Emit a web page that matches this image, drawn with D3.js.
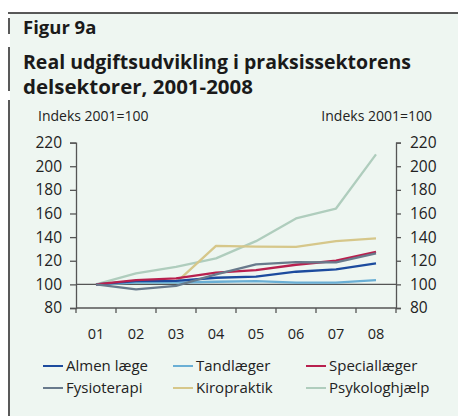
<!DOCTYPE html>
<html>
<head>
<meta charset="utf-8">
<script src="https://cdn.jsdelivr.net/npm/d3@7"></script>
<style>
  body { margin: 0; background: #fff; }
  svg { display: block; font-family: "Open Sans", sans-serif; }
</style>
</head>
<body>
<div id="chart"></div>
<script>
  // data (index 2001 = 100)
  var years = ["01", "02", "03", "04", "05", "06", "07", "08"];
  var almenLaege   = [100, 102.8, 103, 105.6, 106.5, 110.7, 112.7, 117.7];
  var tandlaeger   = [100, 101.4, 101.4, 102.2, 102.8, 101.4, 101.4, 103.6];
  var speciallaeger = [100, 103.6, 105, 110, 112, 116.6, 120, 127.6];
  var fysioterapi  = [100, 95.8, 98.8, 108.4, 116.9, 118.8, 118.6, 126.2];
  var kiropraktik  = [100, 101.7, 101.4, 132.6, 132, 131.8, 136.6, 138.9];
  var psykolog     = [100, 109.3, 114.9, 122, 136.6, 155.8, 164.2, 210];
  var yTicks = [80, 100, 120, 140, 160, 180, 200, 220];

  var series = [
    {name: "Psykologhjælp", values: psykolog,     color: "#afcdbd"},
    {name: "Kiropraktik",   values: kiropraktik,  color: "#d6c78a"},
    {name: "Tandlæger",     values: tandlaeger,   color: "#6aafd5"},
    {name: "Almen læge",    values: almenLaege,   color: "#1c4b9e"},
    {name: "Speciallæger",  values: speciallaeger, color: "#b8204e"},
    {name: "Fysioterapi",   values: fysioterapi,  color: "#687a8c"}
  ];
  var legendOrder = ["Almen læge", "Tandlæger", "Speciallæger", "Fysioterapi", "Kiropraktik", "Psykologhjælp"];

  var width = 458, height = 416;
  var svg = d3.select("#chart").append("svg")
    .attr("width", width)
    .attr("height", height);

  // panel background, top rule and left bar
  svg.append("rect")
    .attr("x", 10).attr("y", 13)
    .attr("width", width - 10).attr("height", height - 13)
    .attr("fill", "#eef6f1");
  svg.append("line")
    .attr("x1", 8).attr("x2", width).attr("y1", 13).attr("y2", 13)
    .attr("stroke", "#222").attr("stroke-width", 1.5);
  [[18, 34], [47, 91], [100, height]].forEach(function(s) {
    svg.append("line")
      .attr("x1", 9).attr("x2", 9).attr("y1", s[0]).attr("y2", s[1])
      .attr("stroke", "#222").attr("stroke-width", 1.5);
  });

  // titles
  svg.append("text").attr("x", 23).attr("y", 34)
    .attr("font-size", 18.5).attr("font-weight", 700).attr("fill", "#1a1a1a")
    .text("Figur 9a");
  svg.append("text").attr("x", 23).attr("y", 69)
    .attr("font-size", 19).attr("font-weight", 700).attr("fill", "#1a1a1a")
    .attr("textLength", 388).attr("lengthAdjust", "spacingAndGlyphs")
    .text("Real udgiftsudvikling i praksissektorens");
  svg.append("text").attr("x", 23).attr("y", 94)
    .attr("font-size", 19).attr("font-weight", 700).attr("fill", "#1a1a1a")
    .attr("textLength", 230).attr("lengthAdjust", "spacingAndGlyphs")
    .text("delsektorer, 2001-2008");

  // scales
  var x = d3.scaleBand().domain(years).range([76, 396]);
  var y = d3.scaleLinear().domain([80, 220]).range([308, 142.6]);
  var axisColor = "#555";

  // axis captions
  svg.append("text").attr("x", 38).attr("y", 121)
    .attr("font-size", 14).attr("fill", "#222").text("Indeks 2001=100");
  svg.append("text").attr("x", 432).attr("y", 121)
    .attr("font-size", 14).attr("fill", "#222").attr("text-anchor", "end").text("Indeks 2001=100");

  function styleAxis(g) {
    g.select(".domain").attr("stroke", axisColor).attr("stroke-width", 1.3);
    g.selectAll(".tick line").attr("stroke", axisColor).attr("stroke-width", 1.3);
    g.selectAll(".tick text").attr("fill", "#222").attr("font-size", 15.5)
      .attr("font-family", "Open Sans, sans-serif");
  }

  var yLeft = svg.append("g").attr("transform", "translate(76,0)")
    .call(d3.axisLeft(y).tickValues(yTicks).tickSize(6).tickSizeOuter(6).tickPadding(8));
  styleAxis(yLeft);
  var yRight = svg.append("g").attr("transform", "translate(396,0)")
    .call(d3.axisRight(y).tickValues(yTicks).tickSize(5).tickSizeOuter(5).tickPadding(9));
  styleAxis(yRight);

  // x axis: ticks at band edges, labels at band centres
  var xAxis = svg.append("g").attr("transform", "translate(0,308)");
  xAxis.append("line").attr("x1", 76).attr("x2", 396)
    .attr("stroke", axisColor).attr("stroke-width", 1.3);
  xAxis.selectAll(".edge")
    .data(years.slice(1))
    .enter().append("line")
    .attr("x1", function(d) { return x(d); })
    .attr("x2", function(d) { return x(d); })
    .attr("y1", 0).attr("y2", 5)
    .attr("stroke", axisColor).attr("stroke-width", 1.3);
  [76, 396].forEach(function(px) {
    xAxis.append("line").attr("x1", px).attr("x2", px).attr("y1", 0).attr("y2", 5)
      .attr("stroke", axisColor).attr("stroke-width", 1.3);
  });
  xAxis.selectAll(".lab")
    .data(years)
    .enter().append("text")
    .attr("x", function(d) { return x(d) + x.bandwidth() / 2; })
    .attr("y", 31)
    .attr("text-anchor", "middle")
    .attr("font-size", 14.5).attr("fill", "#222")
    .text(function(d) { return d; });

  // base line at 100
  svg.append("line")
    .attr("x1", 76).attr("x2", 396)
    .attr("y1", y(100)).attr("y2", y(100))
    .attr("stroke", axisColor).attr("stroke-width", 1.3);

  // series lines
  var line = d3.line()
    .x(function(d, i) { return x(years[i]) + x.bandwidth() / 2; })
    .y(function(d) { return y(d); });

  svg.selectAll(".series")
    .data(series)
    .enter().append("path")
    .attr("class", "series")
    .attr("d", function(d) { return line(d.values); })
    .attr("fill", "none")
    .attr("stroke", function(d) { return d.color; })
    .attr("stroke-width", 2.3)
    .attr("stroke-linejoin", "round");

  // legend
  var colX = [43, 173, 306];
  var rowY = [366, 388];
  var legend = svg.selectAll(".leg")
    .data(legendOrder)
    .enter().append("g")
    .attr("transform", function(d, i) {
      return "translate(" + colX[i % 3] + "," + rowY[Math.floor(i / 3)] + ")";
    });
  legend.append("line")
    .attr("x1", 0).attr("x2", 20).attr("y1", 0).attr("y2", 0)
    .attr("stroke-width", 2)
    .attr("stroke", function(name) {
      return series.find(function(s) { return s.name === name; }).color;
    });
  legend.append("text")
    .attr("x", 23).attr("y", 5)
    .attr("font-size", 15).attr("fill", "#222")
    .text(function(d) { return d; });
</script>
</body>
</html>
